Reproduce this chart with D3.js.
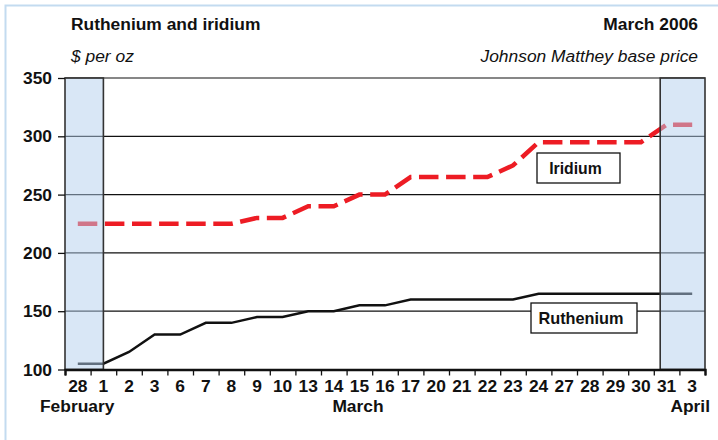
<!DOCTYPE html>
<html>
<head>
<meta charset="utf-8">
<script src="https://cdn.jsdelivr.net/npm/d3@7"></script>
<style>
  body { margin: 0; background: #fff; }
  svg { display: block; font-family: "Liberation Sans", Arial, sans-serif; }
</style>
</head>
<body>
<div id="chart"></div>
<script>
// trading days, 28 Feb .. 3 Apr 2006
const dayLabels = ['28','1','2','3','6','7','8','9','10','13','14','15','16','17',
  '20','21','22','23','24','27','28','29','30','31','3'];
const ruthenium = [105,105,115,130,130,140,140,145,145,150,150,155,155,160,
  160,160,160,160,165,165,165,165,165,165,165];
const iridium = [225,225,225,225,225,225,225,230,230,240,240,250,250,265,
  265,265,265,275,295,295,295,295,295,310,310];
const yTicks = [100,150,200,250,300,350];
const monthLabels = ['February','March','April'];

const width = 718, height = 440;
const plotLeft = 65, plotRight = 705, plotTop = 78, plotBottom = 369.5;

const svg = d3.select('#chart').append('svg')
  .attr('width', width)
  .attr('height', height);

// outer frame
svg.append('rect')
  .attr('x', 5.5).attr('y', 5.5)
  .attr('width', width + 10).attr('height', height + 10)
  .attr('fill', 'none')
  .attr('stroke', '#c3dbf0')
  .attr('stroke-width', 2);

const idx = d3.range(dayLabels.length);
const x = d3.scaleBand().domain(idx).range([plotLeft, plotRight]).padding(0);
const bw = x.bandwidth();
const xEdge = d3.scaleLinear().domain([0, dayLabels.length]).range([plotLeft, plotRight]);
const y = d3.scaleLinear().domain([100, 350]).range([plotBottom, plotTop]);

// gridlines
svg.append('g').selectAll('line')
  .data(yTicks.filter(d => d > 100))
  .enter().append('line')
  .attr('x1', plotLeft).attr('x2', plotRight)
  .attr('y1', d => y(d)).attr('y2', d => y(d))
  .attr('stroke', '#111')
  .attr('stroke-width', 1.2);

const line = d3.line()
  .x((d, i) => x(i) + bw / 2)
  .y(d => y(d));

svg.append('path')
  .datum(ruthenium)
  .attr('d', line)
  .attr('fill', 'none')
  .attr('stroke', '#111')
  .attr('stroke-width', 2.5);

svg.append('path')
  .datum(iridium)
  .attr('d', line)
  .attr('fill', 'none')
  .attr('stroke', '#ed1c24')
  .attr('stroke-width', 4.5)
  .attr('stroke-dasharray', '19.5,7.6');

// shaded bands for February and April
const bands = [
  { x0: x(0), x1: x(1) + bw / 2 },
  { x0: x(23) + bw / 4, x1: plotRight }
];
svg.append('g').selectAll('rect')
  .data(bands)
  .enter().append('rect')
  .attr('x', d => d.x0)
  .attr('y', plotTop)
  .attr('width', d => d.x1 - d.x0)
  .attr('height', plotBottom - plotTop)
  .attr('fill', 'rgba(180,208,238,0.5)')
  .attr('stroke', '#333')
  .attr('stroke-width', 1.6);

// y axis ticks and labels
const yAxis = svg.append('g')
  .attr('transform', `translate(${plotLeft},0)`)
  .call(d3.axisLeft(y).tickValues(yTicks).tickSize(7).tickPadding(6));
yAxis.select('.domain').remove();
yAxis.selectAll('line').attr('stroke', '#111').attr('stroke-width', 1.3);
yAxis.selectAll('text')
  .attr('font-size', '17.4px')
  .attr('font-weight', 'bold')
  .attr('fill', '#111');

// x axis: ticks at day boundaries
const xAxis = svg.append('g')
  .attr('transform', `translate(0,${plotBottom})`)
  .call(d3.axisBottom(xEdge).tickValues(d3.range(dayLabels.length + 1))
    .tickSize(6).tickFormat(''));
xAxis.select('.domain')
  .attr('stroke', '#111')
  .attr('stroke-width', 2.4);
xAxis.selectAll('line').attr('stroke', '#111').attr('stroke-width', 1.3);

// day labels centred on each day
svg.append('g').selectAll('text')
  .data(idx)
  .enter().append('text')
  .attr('x', i => x(i) + bw / 2)
  .attr('y', 392)
  .attr('text-anchor', 'middle')
  .attr('font-size', '17.4px')
  .attr('font-weight', 'bold')
  .attr('fill', '#111')
  .text(i => dayLabels[i]);

const monthPos = [
  { x: 40, anchor: 'start' },
  { x: 358, anchor: 'middle' },
  { x: 710, anchor: 'end' }
];
svg.append('g').selectAll('text')
  .data(monthLabels)
  .enter().append('text')
  .attr('x', (d, i) => monthPos[i].x)
  .attr('y', 412)
  .attr('text-anchor', (d, i) => monthPos[i].anchor)
  .attr('font-size', '17.4px')
  .attr('font-weight', 'bold')
  .attr('fill', '#111')
  .text(d => d);

// series labels in boxes
const boxes = [
  { text: 'Iridium', x0: 537, x1: 620, y0: 153, y1: 183, size: 15.8 },
  { text: 'Ruthenium', x0: 531, x1: 637, y0: 303, y1: 333, size: 16.3 }
];
const bx = svg.append('g').selectAll('g')
  .data(boxes)
  .enter().append('g');
bx.append('rect')
  .attr('x', d => d.x0).attr('y', d => d.y0)
  .attr('width', d => d.x1 - d.x0).attr('height', d => d.y1 - d.y0)
  .attr('fill', '#fff')
  .attr('stroke', '#111')
  .attr('stroke-width', 1.3);
bx.append('text')
  .attr('x', d => (d.x0 + d.x1) / 2 - 3)
  .attr('y', d => (d.y0 + d.y1) / 2 + 6)
  .attr('text-anchor', 'middle')
  .attr('font-size', d => d.size + 'px')
  .attr('font-weight', 'bold')
  .attr('fill', '#111')
  .text(d => d.text);

// titles
svg.append('text').attr('x', 71).attr('y', 30)
  .attr('font-size', '17.4px').attr('font-weight', 'bold').attr('fill', '#111')
  .text('Ruthenium and iridium');
svg.append('text').attr('x', 71).attr('y', 61.5)
  .attr('font-size', '17.4px').attr('font-style', 'italic').attr('fill', '#111')
  .text('$ per oz');
svg.append('text').attr('x', 698).attr('y', 29.5).attr('text-anchor', 'end')
  .attr('font-size', '17.4px').attr('font-weight', 'bold').attr('fill', '#111')
  .text('March 2006');
svg.append('text').attr('x', 698).attr('y', 61.5).attr('text-anchor', 'end')
  .attr('font-size', '17.4px').attr('font-style', 'italic').attr('fill', '#111')
  .text('Johnson Matthey base price');
</script>
</body>
</html>
